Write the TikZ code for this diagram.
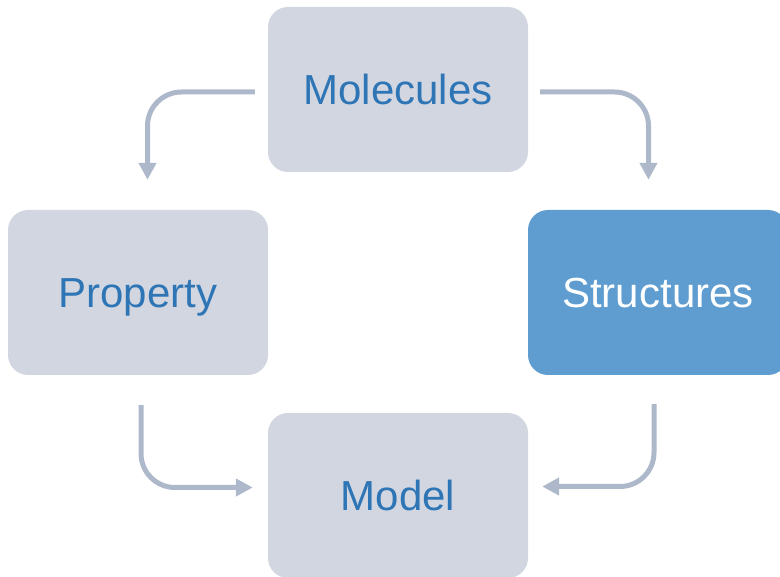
\documentclass[tikz,border=0pt]{standalone}
\usepackage{fontspec}
\setmainfont{Liberation Sans}
\usetikzlibrary{arrows.meta}
\definecolor{boxgray}{HTML}{D2D6E0}
\definecolor{boxblue}{HTML}{5F9DD1}
\definecolor{txtblue}{HTML}{2E75B6}
\definecolor{arrgray}{HTML}{ADB8CA}
\tikzset{
  stage/.style={rounded corners=20pt, minimum width=260pt, minimum height=165pt,
    inner sep=0pt, text height=31pt, text depth=0pt,
    fill=boxgray, text=txtblue, font=\fontsize{42}{50}\selectfont},
  stagehl/.style={stage, fill=boxblue, text=white},
  flow/.style={draw=arrgray, line width=5pt, rounded corners=34pt,
    -{Triangle[length=17pt,width=17pt]}}
}
\begin{document}
\begin{tikzpicture}[x=1pt,y=-1pt]
\useasboundingbox (0,0) rectangle (780,577);
\node[stage] (mol) at (398,89.5) {Molecules};
\node[stage] (prop) at (138,292.5) {Property};
\node[stagehl] (str) at (658,292.5) {Structures};
\node[stage] (mod) at (398,495.5) {Model};
\draw[flow] ([xshift=-13pt,yshift=-2.5pt]mol.west) -| ([xshift=9.5pt,yshift=30pt]prop.north);
\draw[flow] ([xshift=12pt,yshift=-2.5pt]mol.east) -| ([xshift=-9.5pt,yshift=30pt]str.north);
\draw[flow] ([xshift=3pt,yshift=-30pt]prop.south) |- ([xshift=-15pt,yshift=8pt]mod.west);
\draw[flow] ([xshift=-4pt,yshift=-29pt]str.south) |- ([xshift=14pt,yshift=9pt]mod.east);
\end{tikzpicture}
\end{document}
